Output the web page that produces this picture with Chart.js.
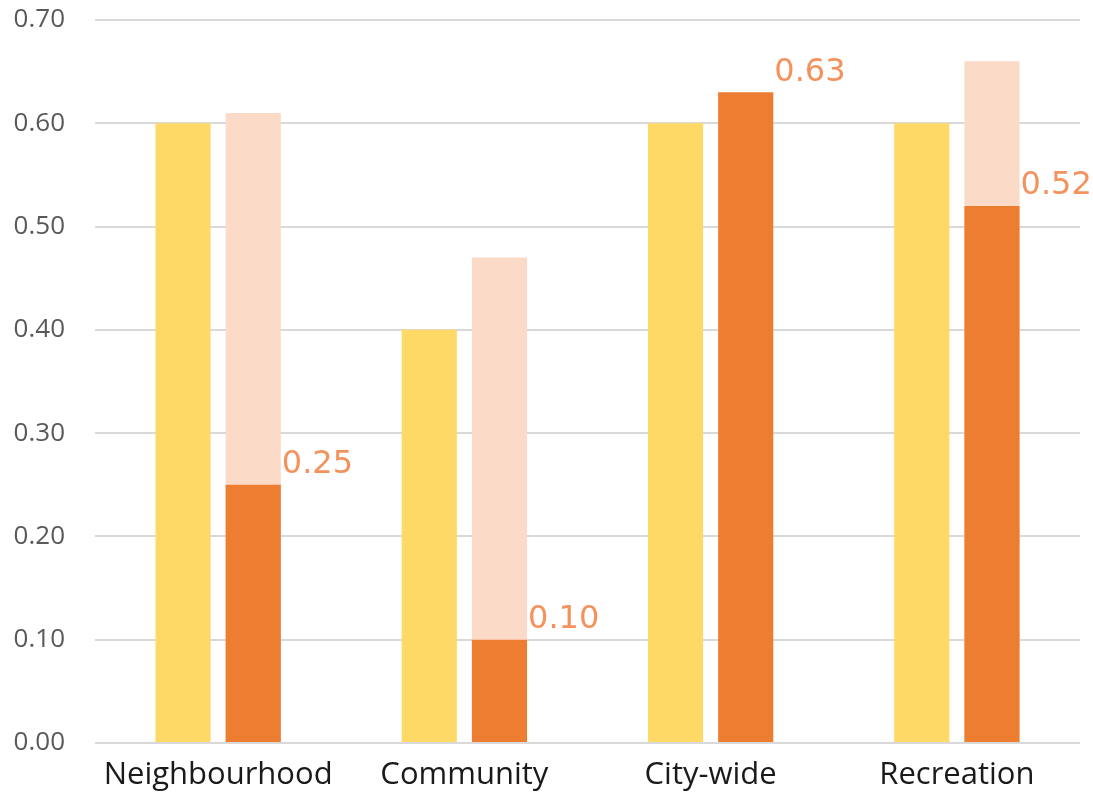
<!DOCTYPE html>
<html>
<head>
<meta charset="utf-8">
<script src="https://cdn.jsdelivr.net/npm/chart.js@4.4.1/dist/chart.umd.min.js"></script>
<style>
  html, body { margin: 0; padding: 0; background: #ffffff; }
  #wrap { width: 1093px; height: 796px; position: relative; }
</style>
</head>
<body>
<div id="wrap"><canvas id="c" width="1093" height="796"></canvas></div>
<script>
// Categories and values
const categories = ['Neighbourhood', 'Community', 'City-wide', 'Recreation'];
const benchmark = [0.60, 0.40, 0.60, 0.60];   // yellow bars
const potential = [0.61, 0.47, null, 0.66];   // pale bars behind the actual value
const actual = [0.25, 0.10, 0.63, 0.52];      // orange bars, labelled
const yTicks = [0, 0.1, 0.2, 0.3, 0.4, 0.5, 0.6, 0.7];

// Writes the value of each orange bar just to the upper right of its top
const valueLabels = {
  id: 'valueLabels',
  afterDatasetsDraw(chart) {
    const ctx = chart.ctx;
    const meta = chart.getDatasetMeta(2);
    ctx.save();
    ctx.font = '32px "DejaVu Sans"';
    ctx.fillStyle = '#F5925C';
    ctx.textAlign = 'left';
    ctx.textBaseline = 'middle';
    meta.data.forEach((bar, i) => {
      const v = actual[i];
      if (v == null) return;
      ctx.fillText(v.toFixed(2), bar.x + bar.width / 2 + 1, bar.y - 20);
    });
    ctx.restore();
  }
};

new Chart(document.getElementById('c'), {
  type: 'bar',
  data: {
    labels: categories,
    datasets: [
      { data: benchmark, backgroundColor: '#FFD966', stack: 'a', order: 0 },
      { data: potential, backgroundColor: '#FCDAC8', stack: 'b', order: 1 },
      { data: actual, backgroundColor: '#ED7D31', stack: 'b', order: 0 }
    ]
  },
  options: {
    responsive: false,
    animation: false,
    layout: { padding: { top: 20, right: 13, left: 0, bottom: 0 } },
    categoryPercentage: 0.57,
    barPercentage: 0.786,
    plugins: { legend: { display: false }, tooltip: { enabled: false } },
    scales: {
      x: {
        grid: { display: false, drawTicks: false },
        border: { display: false },
        ticks: {
          color: '#1a1a1a',
          font: { family: '"Open Sans"', size: 31 },
          padding: 14
        },
        afterFit(scale) { scale.height = 53; }
      },
      y: {
        stacked: false,
        min: 0,
        max: 0.7,
        afterBuildTicks(scale) { scale.ticks = yTicks.map(v => ({ value: v })); },
        grid: { color: '#D9D9D9', lineWidth: 2, drawTicks: false },
        border: { display: false },
        ticks: {
          color: '#595959',
          font: { family: '"Open Sans"', size: 26 },
          padding: 30,
          callback: v => Number(v).toFixed(2)
        },
        afterFit(scale) {
          scale.width = 95;
          scale.paddingTop = 0;
          scale.paddingBottom = 0;
        }
      }
    }
  },
  plugins: [valueLabels]
});
</script>
</body>
</html>
